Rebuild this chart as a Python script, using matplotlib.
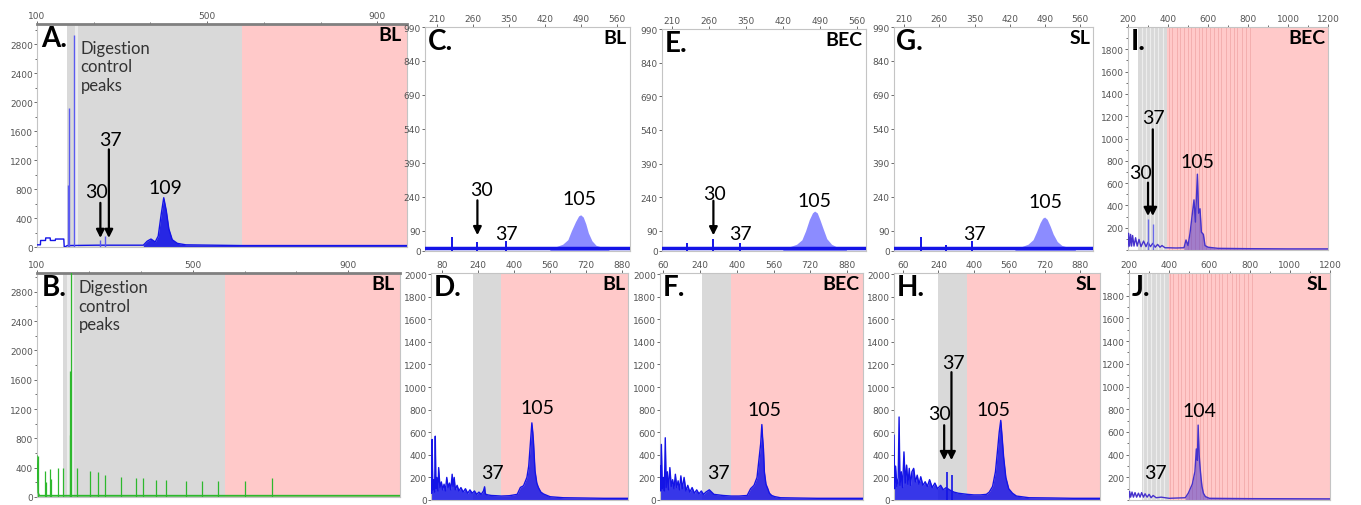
import numpy as np
import matplotlib.pyplot as plt
from matplotlib.ticker import AutoMinorLocator

plt.rcParams['font.family'] = ['DejaVu Sans']
LABEL_FONT = ['Lato', 'DejaVu Sans']

W, H = 1361, 506

PINK = '#ffc9c9'
GREY = '#d9d9d9'
BLUE = '#1414e6'
LIGHT_BLUE = '#8c8cff'
GREEN = '#2db82d'
PURPLE = '#4632cc'

# ---- panel A / B: capillary traces with digestion control peaks ----
A_X = [100, 108, 108.5, 120, 120.5, 131, 131.5, 143, 143.5, 163, 164, 167, 171, 240, 350, 359, 368, 378,
       385, 392, 398, 404, 410, 418, 430, 450, 580, 970]
A_Y = [30, 30, 90, 90, 125, 125, 90, 90, 110, 110, 5, 5, 20, 25, 25, 80, 110, 70,
       150, 450, 680, 500, 250, 100, 50, 30, 20, 20]
A_SPIKES_X = [174, 176, 188, 249, 261]
A_SPIKES_H = [850, 1920, 2920, 100, 150]

B_X = [100, 103, 106, 1033]
B_Y = [560, 60, 20, 20]
B_SPIKES_X = [103, 120, 123, 133, 136, 154, 166, 184, 186, 187, 203, 235, 257, 274, 316, 355, 372,
              405, 431, 482, 525, 566, 635, 703]
B_SPIKES_H = [556, 351, 200, 383, 250, 397, 397, 850, 1719, 3100, 397, 360, 337, 301, 274, 255, 255,
              237, 237, 214, 214, 214, 223, 255]

# ---- panels C / E / G: zoomed traces ----
C_X = [187, 586]
C_Y = [15, 15]
C_SPIKES_X = [240, 289, 344]
C_SPIKES_H = [64, 39, 45]
C_PEAK_X = [430, 443, 455, 465, 472, 480, 486, 490, 495, 500, 505, 512, 520, 530, 545]
C_PEAK_Y = [15, 20, 30, 50, 90, 130, 155, 160, 150, 120, 80, 45, 25, 18, 15]

E_X = [192, 577]
E_Y = [15, 15]
E_SPIKES_X = [240, 289, 339]
E_SPIKES_H = [35, 54, 35]
E_PEAK_X = [420, 434, 446, 456, 463, 470, 476, 480, 485, 490, 496, 503, 512, 522, 540]
E_PEAK_Y = [15, 20, 30, 50, 90, 140, 170, 178, 170, 140, 100, 55, 30, 18, 15]

G_X = [190, 585]
G_Y = [15, 15]
G_SPIKES_X = [243, 294, 344]
G_SPIKES_H = [64, 25, 42]
G_PEAK_X = [430, 444, 456, 466, 473, 480, 485, 489, 494, 500, 506, 514, 523, 533, 550]
G_PEAK_Y = [15, 20, 30, 50, 85, 125, 145, 150, 140, 110, 75, 42, 25, 18, 15]

# ---- panels D / F / H ----
D_X = [32, 35, 37, 40, 44, 48, 51, 54, 58, 63, 66, 72, 78, 84, 90, 96, 102, 108, 114, 120,
       126, 130, 135, 140, 148, 156, 165, 175, 185, 195, 205, 215, 225, 235, 245, 255, 265, 270, 273, 276,
       285, 300, 320, 344, 380, 415, 429, 443, 458, 466, 472, 477, 480, 484, 487, 494, 502, 509, 520, 532,
       561, 620, 700, 800, 907]
D_Y = [250, 60, 536, 90, 180, 70, 565, 100, 200, 80, 287, 110, 160, 90, 140, 80, 200, 110, 150, 90,
       228, 120, 200, 90, 130, 80, 110, 70, 100, 60, 90, 60, 80, 50, 70, 50, 80, 117, 60, 50,
       45, 40, 38, 35, 38, 50, 111, 126, 200, 300, 463, 600, 683, 600, 521, 258, 150, 111, 70, 53,
       29, 20, 18, 15, 15]

F_X = [65, 68, 71, 75, 80, 84, 88, 92, 97, 102, 108, 114, 120, 126, 132, 138, 144, 150, 156, 162,
       170, 178, 186, 195, 205, 215, 225, 235, 245, 255, 265, 280, 300, 320, 340, 375, 410, 445, 460, 475,
       488, 496, 504, 509, 512, 516, 520, 527, 535, 542, 552, 565, 590, 650, 750, 850, 950]
F_Y = [300, 80, 492, 100, 200, 80, 551, 110, 250, 90, 287, 120, 180, 100, 228, 110, 170, 90, 214, 100,
       200, 80, 130, 70, 110, 60, 90, 55, 80, 50, 70, 90, 50, 45, 40, 35, 35, 40, 100, 130,
       200, 350, 500, 668, 560, 450, 250, 140, 100, 60, 40, 30, 20, 18, 15, 15, 15]

H_X = [39, 42, 46, 52, 58, 62, 66, 72, 78, 84, 90, 96, 102, 108, 114, 120, 128, 136, 144, 152,
       160, 170, 180, 190, 200, 212, 224, 236, 250, 262, 275, 290, 310, 330, 350, 371, 400, 430, 457, 470,
       485, 498, 508, 515, 522, 528, 535, 545, 558, 575, 593, 650, 750, 850, 971]
H_Y = [573, 100, 300, 120, 200, 735, 130, 250, 110, 426, 150, 309, 140, 280, 130, 250, 280, 160, 220, 140,
       206, 130, 162, 120, 180, 110, 150, 100, 130, 90, 110, 90, 70, 60, 55, 50, 45, 45, 50, 70,
       120, 250, 450, 600, 705, 560, 380, 200, 100, 60, 35, 20, 18, 15, 15]
H_SPIKES_X = [278, 302]
H_SPIKES_H = [250, 220]

# ---- panels I / J ----
I_X = [200, 203, 208, 213, 218, 223, 230, 238, 246, 255, 265, 278, 290, 300, 312, 324, 336, 348, 360, 370,
       385, 400, 440, 480, 490, 500, 510, 520, 530, 537, 547, 553, 560, 567, 577, 585, 600, 650, 800, 1000,
       1200]
I_Y = [30, 150, 35, 140, 35, 130, 35, 110, 35, 95, 30, 80, 30, 70, 30, 60, 25, 50, 25, 40,
       20, 20, 18, 20, 90, 40, 150, 300, 450, 250, 680, 330, 370, 160, 140, 40, 25, 15, 12, 10,
       10]
I_SPIKES_X = [300, 324]
I_SPIKES_H = [275, 230]

J_X = [200, 203, 208, 215, 222, 230, 238, 247, 255, 263, 272, 280, 290, 300, 310, 320, 335, 360, 400, 480,
       495, 505, 515, 522, 528, 535, 540, 544, 549, 553, 558, 563, 570, 580, 600, 800, 1200]
J_Y = [20, 75, 25, 70, 25, 65, 25, 60, 25, 65, 25, 55, 25, 50, 20, 40, 20, 25, 15, 20,
       60, 100, 140, 200, 250, 450, 350, 660, 400, 300, 200, 120, 60, 30, 15, 12, 10]

STRIPES = [405, 420, 445, 460, 480, 500, 515, 535, 555, 570, 590, 610, 630, 650, 665, 690, 710, 730,
           745, 770, 790, 810]
GREY_STRIPES = [272, 290, 310, 332, 352, 375]

# axis tick labels
TICKS_AB = [100, 500, 900]
TICKS_CEG = [210, 280, 350, 420, 490, 560]
LABELS_CEG = ['210', '260', '350', '420', '490', '560']
TICKS_DFH = [80, 240, 400, 560, 720, 880]
LABELS_D = ['80', '240', '400', '560', '720', '880']
LABELS_FH = ['60', '240', '400', '560', '720', '880']
TICKS_IJ = [200, 400, 600, 800, 1000, 1200]
Y_AB = [0, 400, 800, 1200, 1600, 2000, 2400, 2800]
Y_CEG = [0, 90, 240, 390, 540, 690, 840, 990]
Y_DFH = [0, 200, 400, 600, 800, 1000, 1200, 1400, 1600, 1800, 2000]
Y_IJ = [200, 400, 600, 800, 1000, 1200, 1400, 1600, 1800]

fig = plt.figure(figsize=(W / 100, H / 100), dpi=100)


def add_panel(box):
    """Place an axes using pixel box (left, top, right, bottom)."""
    x0, y0, x1, y1 = box
    return fig.add_axes([x0 / W, 1 - y1 / H, (x1 - x0) / W, (y1 - y0) / H])


def style(ax, xlim, ylim, xticks, xlabels, yticks, minor_x=None, heavy_top=False):
    ax.set_xlim(xlim)
    ax.set_ylim(ylim)
    ax.xaxis.tick_top()
    ax.set_xticks(xticks)
    ax.set_xticklabels(xlabels)
    ax.set_yticks(yticks)
    if minor_x:
        ax.xaxis.set_minor_locator(AutoMinorLocator(minor_x))
    ax.yaxis.set_minor_locator(AutoMinorLocator(2))
    ax.tick_params(which='both', labelsize=6.5, colors='#555555', length=2, width=0.6, pad=1)
    ax.tick_params(which='minor', length=1.2)
    for s in ax.spines.values():
        s.set_color('#c4c4c4')
        s.set_linewidth(0.8)
    if heavy_top:
        ax.spines['top'].set_color('#808080')
        ax.spines['top'].set_linewidth(2)


def shade(ax, grey, pink):
    ax.axvspan(*grey, color=GREY, lw=0, zorder=0)
    ax.axvspan(*pink, color=PINK, lw=0, zorder=0)


def trace(ax, x, y, color, fill_alpha=0.85, lw=1.0, fill_from=None):
    """Line trace; filled below, optionally only from x >= fill_from."""
    x = np.asarray(x, dtype=float)
    y = np.asarray(y, dtype=float)
    where = None if fill_from is None else x >= fill_from
    ax.fill_between(x, 0, y, where=where, color=color, alpha=fill_alpha, lw=0, zorder=2)
    ax.plot(x, y, color=color, lw=lw, zorder=3)


def spikes(ax, x, h, color, lw=0.9):
    ax.vlines(x, 0, h, color=color, lw=lw, zorder=3)


def tag(ax, letter, group):
    ax.text(0.012, 0.995, letter, transform=ax.transAxes, ha='left', va='top', fontsize=20,
            fontweight='bold', family=LABEL_FONT, zorder=5)
    ax.text(0.985, 0.99, group, transform=ax.transAxes, ha='right', va='top', fontsize=14,
            fontweight='bold', family=LABEL_FONT, zorder=5)


def num(ax, x, y, s):
    ax.text(x, y, s, ha='center', va='center', fontsize=14, family=LABEL_FONT, zorder=5)


def arrow(ax, x, y0, y1):
    ax.annotate('', xy=(x, y1), xytext=(x, y0),
                arrowprops=dict(arrowstyle='-|>', color='black', lw=1.6, mutation_scale=12,
                                shrinkA=0, shrinkB=0), zorder=6)


# A
ax = add_panel((37, 25, 407, 248))
style(ax, (100, 970), (0, 3077), TICKS_AB, ['100', '500', '900'], Y_AB, minor_x=3, heavy_top=True)
shade(ax, (171, 581), (581, 970))
ax.axvspan(189, 196, color='#ececec', lw=0, zorder=0)
trace(ax, A_X, A_Y, BLUE, fill_alpha=0.9, fill_from=340)
spikes(ax, A_SPIKES_X, A_SPIKES_H, '#5a5af0', lw=1.0)
tag(ax, 'A.', 'BL')
ax.text(202, 2860, 'Digestion\ncontrol\npeaks', va='top', fontsize=12, family=LABEL_FONT,
        color='#333333', linespacing=1.2)
arrow(ax, 249, 609, 125)
arrow(ax, 269, 1347, 125)
num(ax, 241, 770, '30')
num(ax, 273, 1485, '37')
num(ax, 402, 817, '109')

# B
ax = add_panel((37, 274, 400, 498))
style(ax, (100, 1033), (0, 3055), TICKS_AB, ['100', '500', '900'], Y_AB, minor_x=3, heavy_top=True)
shade(ax, (168, 582), (582, 1033))
ax.axvspan(177, 196, color='#ececec', lw=0, zorder=0)
trace(ax, B_X, B_Y, GREEN, fill_alpha=0.6)
spikes(ax, B_SPIKES_X, B_SPIKES_H, GREEN)
tag(ax, 'B.', 'BL')
ax.text(207, 2973, 'Digestion\ncontrol\npeaks', va='top', fontsize=12, family=LABEL_FONT,
        color='#333333', linespacing=1.2)

# C
ax = add_panel((425, 28, 630, 252))
style(ax, (187, 586), (0, 990), TICKS_CEG, LABELS_CEG, Y_CEG)
ax.yaxis.set_minor_locator(plt.NullLocator())
ax.fill_between(C_PEAK_X, 0, C_PEAK_Y, color=LIGHT_BLUE, lw=0, zorder=2)
ax.plot(C_X, C_Y, color=BLUE, lw=2.5, zorder=3)
spikes(ax, C_SPIKES_X, C_SPIKES_H, BLUE, lw=1.4)
tag(ax, 'C.', 'BL')
arrow(ax, 289, 224, 70)
num(ax, 296, 272, '30')
num(ax, 345, 78, '37')
num(ax, 487, 231, '105')

# E
ax = add_panel((662, 30, 866, 252))
style(ax, (192, 577), (0, 990), TICKS_CEG, LABELS_CEG, Y_CEG)
ax.yaxis.set_minor_locator(plt.NullLocator())
ax.fill_between(E_PEAK_X, 0, E_PEAK_Y, color=LIGHT_BLUE, lw=0, zorder=2)
ax.plot(E_X, E_Y, color=BLUE, lw=2.5, zorder=3)
spikes(ax, E_SPIKES_X, E_SPIKES_H, BLUE, lw=1.4)
tag(ax, 'E.', 'BEC')
arrow(ax, 289, 224, 70)
num(ax, 291, 258, '30')
num(ax, 340, 78, '37')
num(ax, 480, 224, '105')

# G
ax = add_panel((894, 28, 1093, 252))
style(ax, (190, 585), (0, 990), TICKS_CEG, LABELS_CEG, Y_CEG)
ax.yaxis.set_minor_locator(plt.NullLocator())
ax.fill_between(G_PEAK_X, 0, G_PEAK_Y, color=LIGHT_BLUE, lw=0, zorder=2)
ax.plot(G_X, G_Y, color=BLUE, lw=2.5, zorder=3)
spikes(ax, G_SPIKES_X, G_SPIKES_H, BLUE, lw=1.4)
tag(ax, 'G.', 'SL')
num(ax, 349, 78, '37')
num(ax, 490, 217, '105')

# D
ax = add_panel((431, 274, 628, 501))
style(ax, (32, 907), (0, 2010), TICKS_DFH, LABELS_D, Y_DFH)
ax.yaxis.set_minor_locator(plt.NullLocator())
shade(ax, (217, 344), (344, 907))
trace(ax, D_X, D_Y, BLUE)
tag(ax, 'D.', 'BL')
num(ax, 303, 243, '37')
num(ax, 503, 820, '105')

# F
ax = add_panel((660, 274, 863, 501))
style(ax, (65, 950), (0, 2010), TICKS_DFH, LABELS_FH, Y_DFH)
ax.yaxis.set_minor_locator(plt.NullLocator())
shade(ax, (247, 375), (375, 950))
trace(ax, F_X, F_Y, BLUE)
tag(ax, 'F.', 'BEC')
num(ax, 320, 243, '37')
num(ax, 521, 800, '105')

# H
ax = add_panel((894, 274, 1100, 501))
style(ax, (39, 971), (0, 2010), TICKS_DFH, LABELS_FH, Y_DFH)
ax.yaxis.set_minor_locator(plt.NullLocator())
shade(ax, (238, 371), (371, 971))
trace(ax, H_X, H_Y, BLUE)
spikes(ax, H_SPIKES_X, H_SPIKES_H, BLUE, lw=1.2)
tag(ax, 'H.', 'SL')
arrow(ax, 266, 662, 353)
arrow(ax, 299, 1132, 353)
num(ax, 246, 764, '30')
num(ax, 309, 1220, '37')
num(ax, 487, 800, '105')

# I
ax = add_panel((1128, 28, 1328, 251))
style(ax, (200, 1200), (0, 2000), TICKS_IJ, [str(t) for t in TICKS_IJ], Y_IJ, minor_x=2)
shade(ax, (250, 393), (393, 1200))
ax.vlines(STRIPES, 0, 2000, color='#f2a8a8', lw=0.7, alpha=0.8, zorder=1)
ax.vlines(GREY_STRIPES, 0, 2000, color='#ededed', lw=0.8, zorder=1)
trace(ax, I_X, I_Y, PURPLE, fill_alpha=0.5, fill_from=480)
spikes(ax, I_SPIKES_X, I_SPIKES_H, '#6a6ae8', lw=1.0)
tag(ax, 'I.', 'BEC')
arrow(ax, 300, 604, 305)
arrow(ax, 324, 1082, 305)
num(ax, 262, 694, '30')
num(ax, 329, 1187, '37')
num(ax, 547, 798, '105')

# J
ax = add_panel((1129, 274, 1330, 501))
style(ax, (200, 1200), (0, 2000), TICKS_IJ, ['200', '400', '600', '800', '1000', '1200'], Y_IJ, minor_x=2)
shade(ax, (266, 399), (399, 1200))
ax.vlines(STRIPES, 0, 2000, color='#f2a8a8', lw=0.7, alpha=0.8, zorder=1)
ax.vlines(GREY_STRIPES, 0, 2000, color='#ededed', lw=0.8, zorder=1)
trace(ax, J_X, J_Y, PURPLE, fill_alpha=0.5, fill_from=480)
tag(ax, 'J.', 'SL')
num(ax, 333, 240, '37')
num(ax, 549, 791, '104')

fig.savefig('out.png', dpi=100)
